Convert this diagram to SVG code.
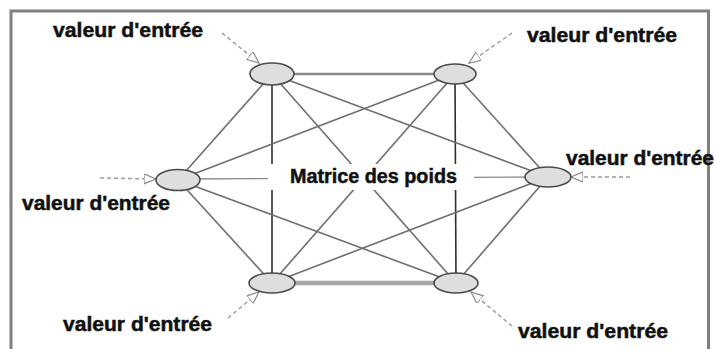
<svg xmlns="http://www.w3.org/2000/svg" width="715" height="349" viewBox="0 0 715 349">
<style>
.lbl{font-family:"Liberation Sans",Arial,sans-serif;font-weight:bold;font-size:20px;fill:#111;stroke:#111;stroke-width:0.5}
.node{fill:#dedede;stroke:#4a4a4a;stroke-width:1.6}
.diag{stroke:#6f6f6f;stroke-width:1.6;fill:none}
.vert{stroke:#2e2e2e;stroke-width:1.6;fill:none}
.inp{stroke:#9a9a9a;stroke-width:1.4;stroke-dasharray:4 3;fill:none;marker-end:url(#arr)}
</style>
<defs>
<marker id="arr" markerUnits="userSpaceOnUse" markerWidth="14" markerHeight="12" refX="12" refY="5" orient="auto">
<path d="M0,0 L12,5 L0,10 z" fill="#fff" stroke="#8a8a8a" stroke-width="1.2"/>
</marker>
</defs>
<rect x="0" y="0" width="715" height="349" fill="#fff"/>
<rect id="frame" x="11" y="11" width="697.5" height="345" fill="none" stroke="#808080" stroke-width="3"/>
<g id="connectors">
<line x1="272" y1="74" x2="455" y2="74" stroke="#8c8c8c" stroke-width="2.6"/>
<line x1="272" y1="283" x2="456" y2="283" stroke="#a6a6a6" stroke-width="4.5"/>
<line class="vert" x1="272" y1="74" x2="272" y2="283"/>
<line class="vert" x1="455" y1="74" x2="456" y2="283"/>
<line x1="178" y1="179" x2="548" y2="177" stroke="#8a8a8a" stroke-width="1.3"/>
<line class="diag" x1="272" y1="74" x2="178" y2="180"/>
<line class="diag" x1="272" y1="283" x2="178" y2="180"/>
<line class="diag" x1="455" y1="74" x2="548" y2="177"/>
<line class="diag" x1="456" y1="283" x2="548" y2="177"/>
<line class="diag" x1="272" y1="74" x2="548" y2="177"/>
<line class="diag" x1="272" y1="74" x2="456" y2="283"/>
<line class="diag" x1="455" y1="74" x2="178" y2="180"/>
<line class="diag" x1="455" y1="74" x2="272" y2="283"/>
<line class="diag" x1="272" y1="283" x2="548" y2="177"/>
<line class="diag" x1="456" y1="283" x2="178" y2="180"/>
<line class="inp" x1="222" y1="33" x2="259" y2="63"/>
<line class="inp" x1="512" y1="33" x2="469" y2="63"/>
<line class="inp" x1="630" y1="177" x2="571" y2="177"/>
<line class="inp" x1="100" y1="178" x2="156" y2="179"/>
<line class="inp" x1="228" y1="318" x2="259" y2="292"/>
<line class="inp" x1="512" y1="326" x2="471" y2="292"/>
</g>
<g id="center-label">
<rect x="268" y="164" width="206" height="26" fill="#fff"/>
<text class="lbl" x="290" y="183" textLength="167" lengthAdjust="spacingAndGlyphs">Matrice des poids</text>
</g>
<g id="n-tl"><ellipse class="node" cx="272" cy="74" rx="22" ry="11"/></g>
<g id="n-tr"><ellipse class="node" cx="455" cy="74" rx="21" ry="10"/></g>
<g id="n-l"><ellipse class="node" cx="178" cy="180" rx="22" ry="10.5"/></g>
<g id="n-r"><ellipse class="node" cx="548" cy="177" rx="23" ry="10"/></g>
<g id="n-bl"><ellipse class="node" cx="272" cy="283" rx="23" ry="10"/></g>
<g id="n-br"><ellipse class="node" cx="456" cy="283" rx="22" ry="10"/></g>
<g id="labels">
<text class="lbl" x="53" y="37" textLength="150" lengthAdjust="spacingAndGlyphs">valeur d'entrée</text>
<text class="lbl" x="527" y="42" textLength="150" lengthAdjust="spacingAndGlyphs">valeur d'entrée</text>
<text class="lbl" x="566" y="165" textLength="148" lengthAdjust="spacingAndGlyphs">valeur d'entrée</text>
<text class="lbl" x="22" y="210" textLength="148" lengthAdjust="spacingAndGlyphs">valeur d'entrée</text>
<text class="lbl" x="63" y="331" textLength="149" lengthAdjust="spacingAndGlyphs">valeur d'entrée</text>
<text class="lbl" x="518" y="338" textLength="150" lengthAdjust="spacingAndGlyphs">valeur d'entrée</text>
</g>
</svg>
